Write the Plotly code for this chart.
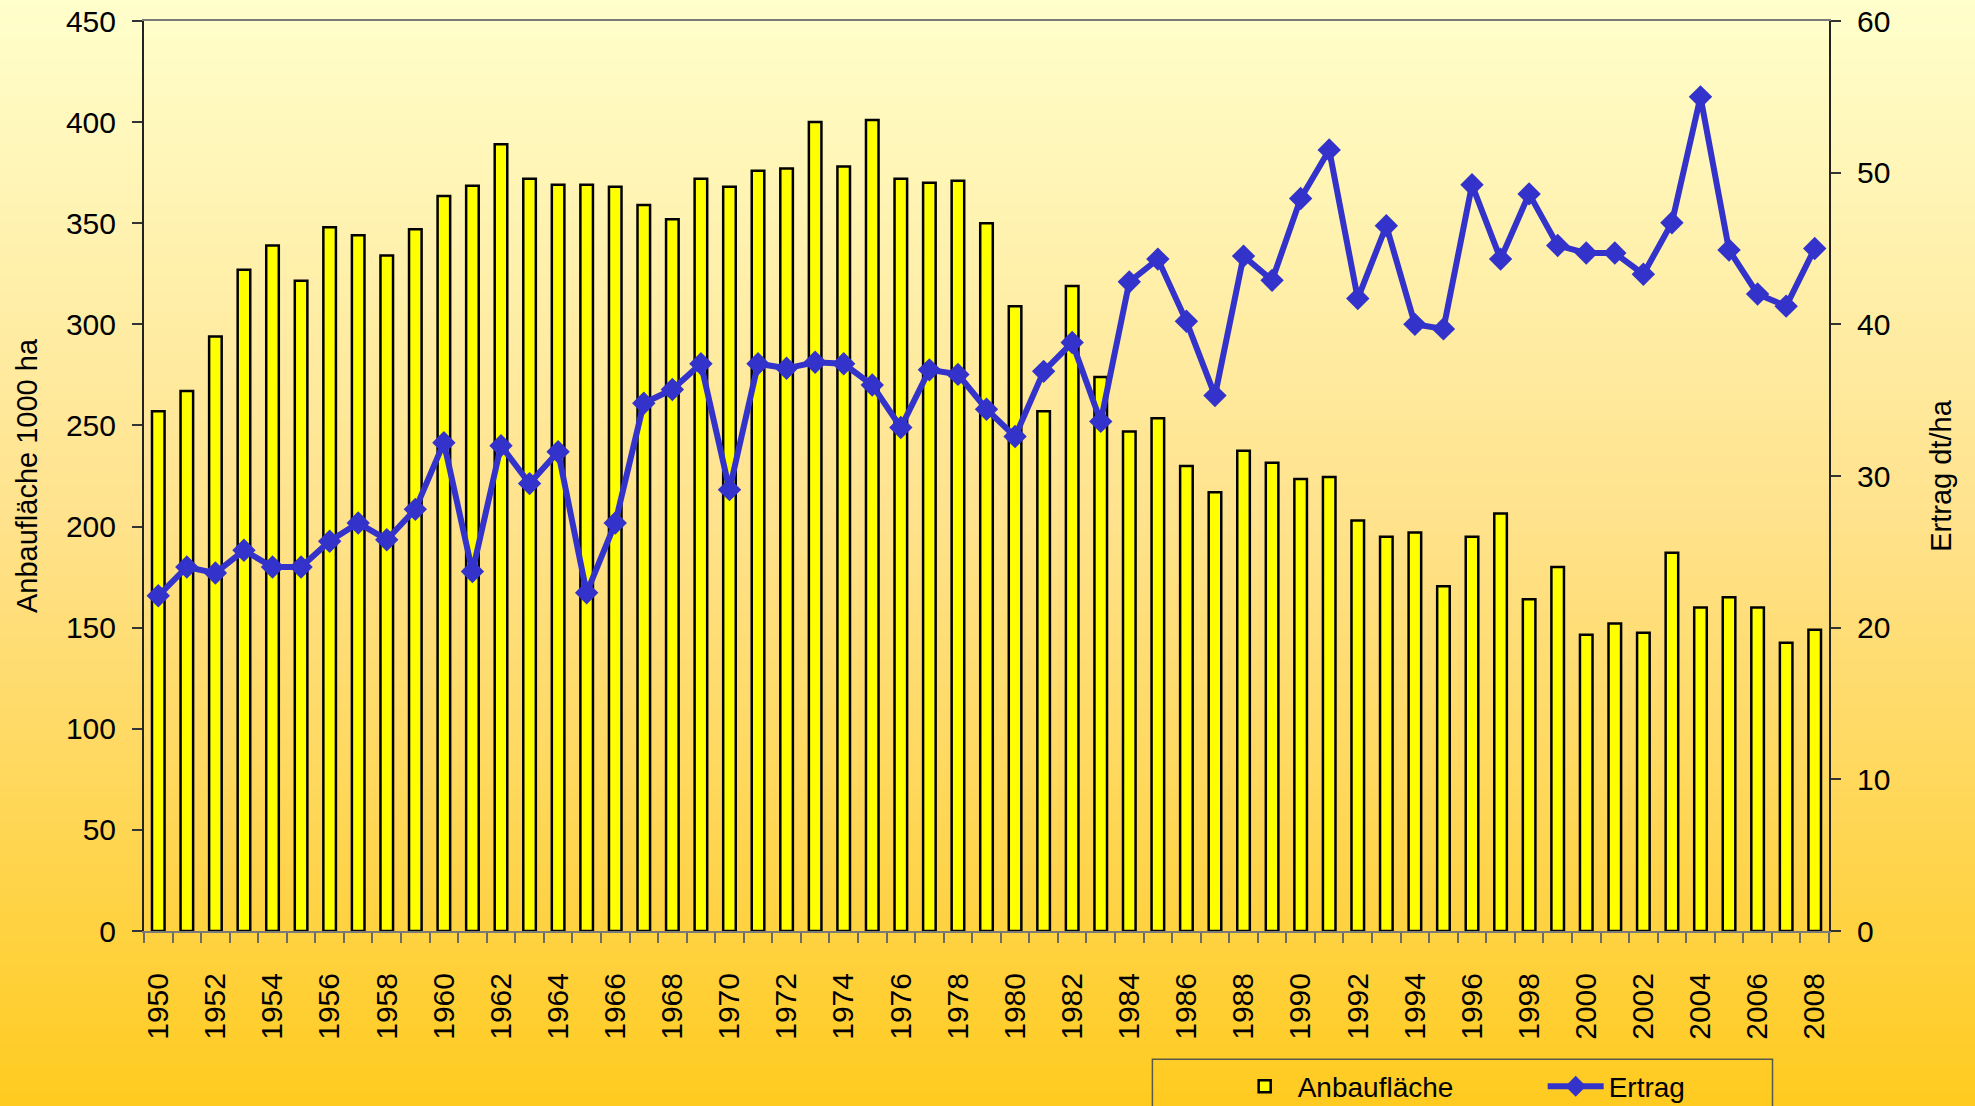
import plotly.graph_objects as go

# ---- data -----------------------------------------------------------------
years = list(range(1950, 2009))
anbauflaeche = [257, 267, 294, 327, 339, 321.5, 348, 344, 334, 347,
                363.5, 368.5, 389, 372, 369, 369, 368, 359, 352, 372,
                368, 376, 377, 400, 378, 401, 372, 370, 371, 350,
                309, 257, 319, 274, 247, 253.5, 230, 217, 237.5, 231.5,
                223.5, 224.5, 203, 195, 197, 170.5, 195, 206.5, 164, 180,
                146.5, 152, 147.5, 187, 160, 165, 160, 142.5, 149]
ertrag = [22.1, 24.0, 23.6, 25.1, 24.0, 24.0, 25.7, 26.9, 25.8, 27.8,
          32.2, 23.7, 32.0, 29.5, 31.6, 22.3, 26.9, 34.8, 35.7, 37.4,
          29.1, 37.4, 37.1, 37.5, 37.4, 36.0, 33.2, 37.0, 36.7, 34.4,
          32.6, 36.9, 38.8, 33.6, 42.8, 44.3, 40.2, 35.3, 44.5, 42.9,
          48.3, 51.5, 41.7, 46.5, 40.0, 39.7, 49.2, 44.3, 48.6, 45.2,
          44.7, 44.7, 43.3, 46.7, 55.0, 44.9, 42.0, 41.2, 45.0]
tick_years = [y for y in years if y % 2 == 0]
tick_labels = [str(y) for y in tick_years]
boundaries = [y - 0.5 for y in years] + [years[-1] + 0.5]

# ---- geometry --------------------------------------------------------------
W, H = 1975, 1106
L, R, T, B = 144, 145.5, 21.4, 175
PW = W - L - R
PH = H - T - B
FONT = "Liberation Sans, Arial, Helvetica, sans-serif"


def px_x(px):
    return (px - L) / PW


def px_y(py):
    return (H - B - py) / PH


# background gradient (top light cream -> bottom golden)
stops = [(0.0, (255, 255, 204)), (0.47, (255, 226, 140)), (1.0, (255, 203, 32))]


def grad(t):
    for (t0, c0), (t1, c1) in zip(stops[:-1], stops[1:]):
        if t0 <= t <= t1:
            f = (t - t0) / (t1 - t0)
            return tuple(round(a + (b - a) * f) for a, b in zip(c0, c1))
    return stops[-1][1]


shapes = []
step = 6
for py in range(0, H, step):
    c = grad((py + step / 2) / H)
    shapes.append(dict(type="rect", xref="paper", yref="paper",
                       x0=px_x(-5), x1=px_x(W + 5),
                       y0=px_y(py + step + 0.5), y1=px_y(py),
                       fillcolor="rgb(%d,%d,%d)" % c, line=dict(width=0),
                       layer="below"))
# legend frame
shapes.append(dict(type="rect", xref="paper", yref="paper",
                   x0=px_x(1152.7), x1=px_x(1773), y0=px_y(1059.3), y1=px_y(1115),
                   line=dict(color="#5a5a4a", width=1.5), fillcolor="rgba(0,0,0,0)",
                   layer="below"))

fig = go.Figure()
fig.add_trace(go.Bar(
    x=years, y=anbauflaeche, name="Anbaufläche", width=0.44,
    marker=dict(color="#FFFF00", line=dict(color="#000000", width=2.5)),
    yaxis="y",
))
fig.add_trace(go.Scatter(
    x=years, y=ertrag, name="Ertrag", mode="lines+markers",
    line=dict(color="#3333CC", width=6),
    marker=dict(symbol="diamond", size=18, color="#3333CC"),
    yaxis="y2",
))

fig.update_layout(
    width=W, height=H,
    margin=dict(l=L, r=R, t=T, b=B, autoexpand=False),
    paper_bgcolor="#FFCB20", plot_bgcolor="rgba(0,0,0,0)",
    font=dict(family=FONT, size=30, color="#000000"),
    shapes=shapes,
    showlegend=True,
    legend=dict(orientation="h", x=px_x(1232), y=px_y(1061.5),
                xanchor="left", yanchor="top",
                bgcolor="rgba(0,0,0,0)", borderwidth=0,
                font=dict(size=28, family=FONT), itemwidth=56,
                entrywidth=240, entrywidthmode="pixels"),
    xaxis=dict(range=[1949.5, 2008.5], tickmode="array",
               tickvals=tick_years, ticktext=tick_labels, tickangle=-90,
               ticks="", ticklabelstandoff=28, showgrid=False, zeroline=False,
               showline=True, linecolor="#7a7a7a", linewidth=2, mirror=True,
               tickfont=dict(size=30),
               minor=dict(tickmode="array", tickvals=boundaries, ticks="outside",
                          ticklen=10, tickwidth=1.5, tickcolor="#6a6a6a")),
    yaxis=dict(range=[0, 450], dtick=50, tick0=0, ticks="outside", ticklen=10,
               tickwidth=1.5, tickcolor="#333333", showgrid=False, zeroline=False,
               showline=True, linecolor="#222222", linewidth=2,
               ticklabelstandoff=10, tickfont=dict(size=30),
               title=dict(text="Anbaufläche 1000 ha", font=dict(size=29), standoff=20)),
    yaxis2=dict(range=[0, 60], dtick=10, tick0=0, overlaying="y", side="right",
                ticks="outside", ticklen=10, tickwidth=1.5, tickcolor="#333333",
                showgrid=False, zeroline=False, showline=True, linecolor="#222222",
                linewidth=2, ticklabelstandoff=10, tickfont=dict(size=30),
                title=dict(text="Ertrag dt/ha", font=dict(size=29), standoff=41)),
    bargap=0.56,
)

fig.write_html("out.html", config={"displayModeBar": False},
               post_script="document.body.style.margin='0px';document.body.style.overflow='hidden';")
